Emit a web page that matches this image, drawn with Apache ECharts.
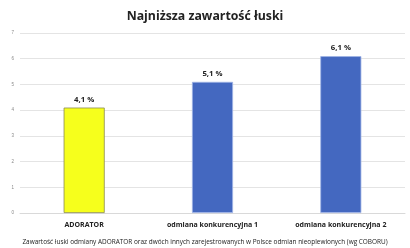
<!DOCTYPE html>
<html><head><meta charset="utf-8">
<script src="https://cdn.jsdelivr.net/npm/echarts@6/dist/echarts.min.js"></script>
<style>html,body{margin:0;padding:0;background:#fff}#c{width:410px;height:248px}</style>
</head><body><div id="c"></div>
<script>
const categories = ['ADORATOR', 'odmiana konkurencyjna 1', 'odmiana konkurencyjna 2'];
const values = [4.1, 5.1, 6.1];
const labels = ['4,1 %', '5,1 %', '6,1 %'];
const yTicks = [0, 1, 2, 3, 4, 5, 6, 7];
const chart = echarts.init(document.getElementById('c'));
chart.setOption({
  animation: false,
  title: [{
    text: 'Najniższa zawartość łuski', left: 'center', top: 5,
    textStyle: {fontFamily: 'Open Sans', fontWeight: 'bold', fontSize: 12.3, color: '#222'}
  }, {
    text: 'Zawartość łuski odmiany ADORATOR oraz dwóch innych zarejestrowanych w Polsce odmian nieoplewionych (wg COBORU)',
    left: 'center', top: 234,
    textStyle: {fontFamily: 'Open Sans', fontWeight: 'normal', fontSize: 6.45, color: '#222'}
  }],
  grid: {left: 20, right: 5, top: 33, bottom: 35},
  xAxis: {
    type: 'category', data: categories,
    axisLine: {lineStyle: {color: '#d9d9d9'}}, axisTick: {show: false},
    axisLabel: {fontFamily: 'Open Sans', fontWeight: 'bold', fontSize: 7, color: '#222', margin: 8}
  },
  yAxis: {
    type: 'value', min: 0, max: 7, interval: 1,
    axisLabel: {fontSize: 4.5, color: '#888', margin: 6, formatter: v => yTicks.includes(v) ? String(v) : ''},
    splitLine: {lineStyle: {color: '#e4e4e4'}}
  },
  series: [{
    type: 'bar', barWidth: '32%',
    data: values.map((v, i) => ({
      value: v,
      itemStyle: i === 0 ? {color: '#f6ff1c', borderColor: '#8a8a50', borderWidth: 0.8}
                         : {color: '#4468c0', borderColor: '#9fb4e6', borderWidth: 0.8}
    })),
    label: {show: true, position: 'top', distance: 4, formatter: p => labels[p.dataIndex],
      fontFamily: 'Open Sans', fontWeight: 'bold', fontSize: 7.8, color: '#222'}
  }]
});
</script></body></html>
